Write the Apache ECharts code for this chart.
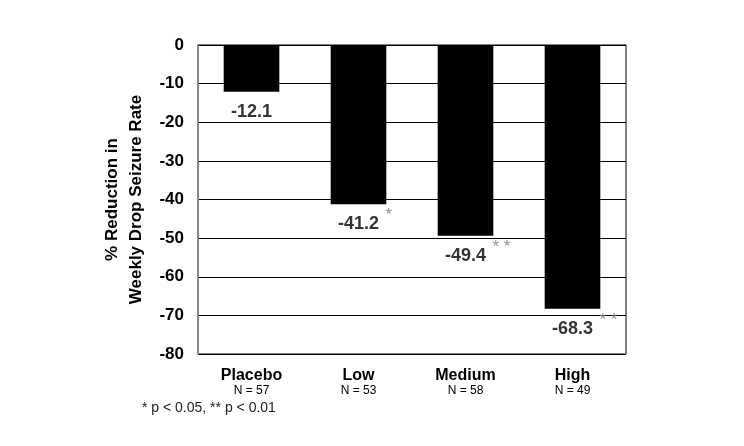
<!DOCTYPE html>
<html><head><meta charset="utf-8">
<script src="https://cdn.jsdelivr.net/npm/echarts@6/dist/echarts.min.js"></script>
<style>html,body{margin:0;padding:0;background:#fff}#c{width:744px;height:446px}</style>
</head><body><div id="c"></div>
<script>
var categories = ['Placebo', 'Low', 'Medium', 'High'];
var nLabels = ['N = 57', 'N = 53', 'N = 58', 'N = 49'];
var values = [-12.1, -41.2, -49.4, -68.3];
var stars = ['', '*', '**', '**'];
var yTicks = [0, -10, -20, -30, -40, -50, -60, -70, -80];

var chart = echarts.init(document.getElementById('c'));
var F = 'Liberation Sans, Arial, sans-serif';
chart.setOption({
  animation: false,
  grid: { left: 198, right: 118, top: 45, bottom: 92, show: true, borderColor: '#000', borderWidth: 1 },
  xAxis: {
    type: 'category', data: categories, position: 'bottom',
    axisLine: { show: false }, axisTick: { show: false },
    axisLabel: {
      margin: 13,
      formatter: function (v, i) { return '{a|' + v + '}\n{b|' + nLabels[i] + '}'; },
      rich: {
        a: { fontFamily: F, fontWeight: 'bold', fontSize: 16, color: '#000', lineHeight: 17 },
        b: { fontFamily: F, fontSize: 12, color: '#000', lineHeight: 14 }
      }
    }
  },
  yAxis: {
    type: 'value', min: yTicks[yTicks.length - 1], max: yTicks[0], interval: 10,
    axisLine: { show: true, lineStyle: { color: '#888', width: 2 } },
    axisTick: { show: false },
    splitLine: { show: true, lineStyle: { color: '#000', width: 1 } },
    axisLabel: { fontFamily: F, fontWeight: 'bold', fontSize: 17, color: '#000', margin: 14 },
    name: '% Reduction in\nWeekly Drop Seizure Rate',
    nameLocation: 'middle', nameRotate: 90, nameGap: 44,
    nameTextStyle: { fontFamily: F, fontWeight: 'bold', fontSize: 17, color: '#000', lineHeight: 24 }
  },
  series: [{
    type: 'bar', data: values, barWidth: '52%',
    itemStyle: { color: '#000' }
  }, {
    type: 'scatter', data: values, symbolSize: 0, silent: true,
    label: {
      show: true, position: 'bottom', distance: 11,
      fontFamily: F, fontWeight: 'bold', fontSize: 18, color: '#000',
      textBorderWidth: 0,
      formatter: function (p) { return String(p.value); }
    }
  }, {
    type: 'scatter', data: values, symbolSize: 0, silent: true,
    label: {
      show: true, position: 'bottom', distance: 11, align: 'left',
      offset: [27, -8],
      fontFamily: F, fontSize: 17, color: '#777', textBorderWidth: 0,
      formatter: function (p) { return stars[p.dataIndex].split('').join(' '); }
    }
  }],
  graphic: [{
    type: 'text', left: 142, top: 401,
    style: { text: '* p < 0.05, ** p < 0.01', font: '14px ' + F, fill: '#222' }
  }]
});
</script></body></html>
